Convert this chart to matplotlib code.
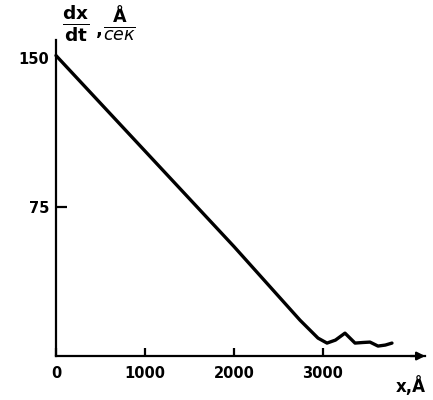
import matplotlib
matplotlib.use("Agg")
import matplotlib.pyplot as plt

# velocity dx/dt (A/sec) vs distance x (A)
x_vals = [0, 1000, 2000, 2742, 2944, 3045, 3140, 3247, 3360, 3450, 3528, 3618, 3700, 3775]
v_vals = [151, 103, 55, 18, 9, 6.5, 8, 11.5, 6.5, 6.8, 7, 5, 5.5, 6.5]

x_ticks = [0, 1000, 2000, 3000]
x_ticklabels = ["0", "1000", "2000", "3000"]
y_ticks = [75, 150]
y_ticklabels = ["75", "150"]

fig = plt.figure(figsize=(4.33, 4.0), dpi=100)
ax = fig.add_axes([0, 0, 1, 1])
ax.set_xlim(-629, 4236)
ax.set_ylim(-22.1, 178.9)

ax.plot(x_vals, v_vals, color="black", lw=2.4, solid_capstyle="round", solid_joinstyle="round")

# axes drawn through the origin, like the hand-drawn original
for side in ["top", "right"]:
    ax.spines[side].set_visible(False)
ax.spines["left"].set_position(("data", 0))
ax.spines["bottom"].set_position(("data", 0))
ax.spines["left"].set_bounds(0, 159)
ax.spines["bottom"].set_bounds(0, 4150)
ax.spines["left"].set_linewidth(1.6)
ax.spines["bottom"].set_linewidth(1.6)
ax.annotate("", xy=(4180, 0), xytext=(3950, 0),
            arrowprops=dict(arrowstyle="-|>", color="black", lw=1.6, mutation_scale=12))

ax.set_xticks(x_ticks)
ax.set_xticklabels(x_ticklabels, fontsize=10.5, fontweight="bold")
ax.set_yticks(y_ticks)
ax.set_yticklabels(y_ticklabels, fontsize=10.5, fontweight="bold")
ax.tick_params(axis="x", direction="in", length=6, width=1.6, pad=7)
ax.tick_params(axis="y", direction="in", length=8, width=1.6, pad=5)
ax.yaxis.get_major_ticks()[1].tick1line.set_visible(False)

ax.text(0.143, 0.94, r"$\frac{\mathbf{dx}}{\mathbf{dt}}$", transform=ax.transAxes,
        fontsize=19, ha="left", va="center")
ax.text(0.222, 0.925, ",", transform=ax.transAxes, fontsize=13, fontweight="bold",
        ha="left", va="center")
ax.text(0.237, 0.94, r"$\frac{\mathbf{\AA}}{\mathit{сек}}$", transform=ax.transAxes,
        fontsize=18, ha="left", va="center")
ax.text(0.915, 0.035, "x,Å", transform=ax.transAxes, fontsize=12, fontweight="bold",
        ha="left", va="center")

fig.savefig("out.png", dpi=100)
